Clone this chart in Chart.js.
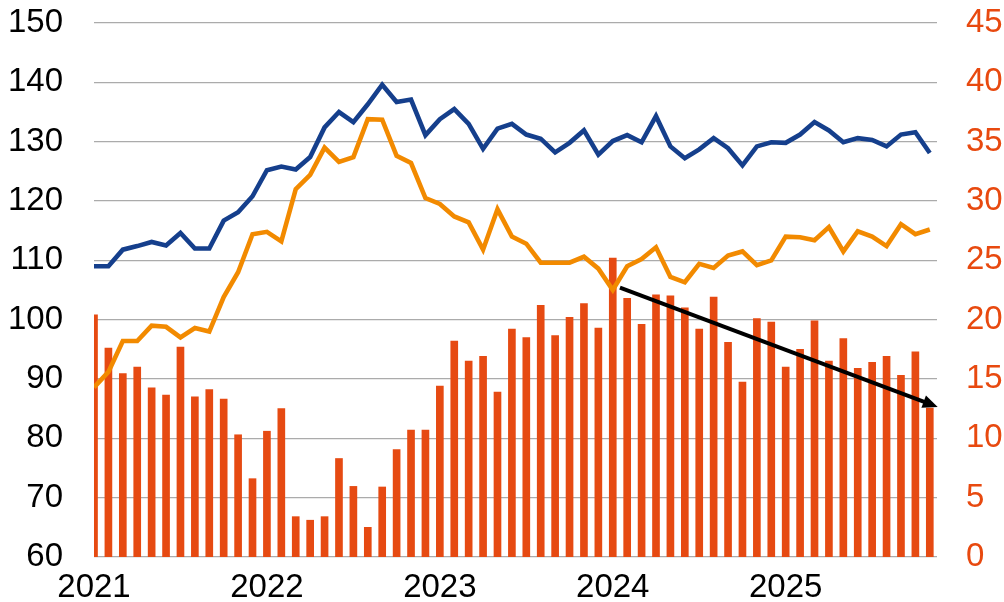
<!DOCTYPE html>
<html>
<head>
<meta charset="utf-8">
<script src="https://cdn.jsdelivr.net/npm/chart.js@4"></script>
<style>
  html, body { margin: 0; padding: 0; background: #fff; }
  #wrap { width: 1004px; height: 602px; position: relative; }
</style>
</head>
<body>
<div id="wrap"><canvas id="c"></canvas></div>
<script>
// Monthly observations, Jan 2021 .. Nov 2025 (index 0..58)
const yearLabels = ['2021', '2022', '2023', '2024', '2025'];
const monthsPerYear = 12;

// Blue line (left axis)
const blueSeries = [109.0,109.0,111.8,112.4,113.1,112.5,114.6,112.0,112.0,116.7,118.1,120.8,
  125.2,125.8,125.3,127.4,132.4,135.0,133.3,136.3,139.6,136.7,137.1,131.1,
  133.8,135.5,133.0,128.8,132.2,133.0,131.2,130.5,128.2,129.8,131.9,127.8,
  130.1,131.1,129.9,134.3,129.2,127.2,128.7,130.6,128.9,126.0,129.2,129.9,
  129.8,131.2,133.3,131.9,129.9,130.6,130.3,129.2,131.2,131.6,128.1];

// Orange line (right axis)
const orangeSeries = [14.3,15.6,18.2,18.2,19.5,19.4,18.5,19.3,19.0,21.9,24.0,27.2,
  27.4,26.6,31.0,32.2,34.5,33.3,33.7,36.9,36.85,33.8,33.2,30.25,
  29.75,28.7,28.2,25.9,29.3,27.0,26.4,24.8,24.8,24.8,25.3,24.3,
  22.5,24.5,25.1,26.1,23.6,23.15,24.7,24.35,25.4,25.75,24.6,25.0,
  27.0,26.95,26.7,27.8,25.75,27.45,27.0,26.2,28.05,27.2,27.6];

// Bars (right axis)
const barSeries = [20.4,17.6,15.45,16.0,14.25,13.65,17.7,13.5,14.1,13.3,10.3,6.6,
  10.6,12.5,3.4,3.1,3.4,8.3,5.95,2.5,5.9,9.05,10.7,10.7,
  14.4,18.2,16.5,16.9,13.9,19.2,18.5,21.2,18.65,20.2,21.35,19.3,
  25.2,21.8,19.6,22.1,22.0,21.0,19.2,21.9,18.1,14.75,20.1,19.8,
  16.0,17.5,19.9,16.5,18.4,15.9,16.4,16.9,15.3,17.3,12.55];

// Left / right axis ticks
const leftTicks = [60, 70, 80, 90, 100, 110, 120, 130, 140, 150];
const rightTicks = [0, 5, 10, 15, 20, 25, 30, 35, 40, 45];

// Trend arrow (month index, right-axis value)
const arrowFrom = [36.5, 22.7];
const arrowTo = [58.55, 12.65];

const toXY = arr => arr.map((v, i) => ({ x: i, y: v }));

const arrowPlugin = {
  id: 'trendArrow',
  afterDatasetsDraw(chart) {
    const xs = chart.scales.x, ys = chart.scales.y1, ctx = chart.ctx;
    const x0 = xs.getPixelForValue(arrowFrom[0]), y0 = ys.getPixelForValue(arrowFrom[1]);
    const x1 = xs.getPixelForValue(arrowTo[0]), y1 = ys.getPixelForValue(arrowTo[1]);
    const ang = Math.atan2(y1 - y0, x1 - x0);
    const headLen = 15, headHalf = 6.5;
    const bx = x1 - headLen * Math.cos(ang), by = y1 - headLen * Math.sin(ang);
    ctx.save();
    ctx.strokeStyle = '#000'; ctx.fillStyle = '#000'; ctx.lineWidth = 4;
    ctx.beginPath(); ctx.moveTo(x0, y0);
    ctx.lineTo(bx + 2 * Math.cos(ang), by + 2 * Math.sin(ang)); ctx.stroke();
    ctx.beginPath(); ctx.moveTo(x1, y1);
    ctx.lineTo(bx + headHalf * Math.sin(ang), by - headHalf * Math.cos(ang));
    ctx.lineTo(bx - headHalf * Math.sin(ang), by + headHalf * Math.cos(ang));
    ctx.closePath(); ctx.fill();
    ctx.restore();
  }
};

const FONT = { family: '"Liberation Sans", Arial, sans-serif', size: 33, lineHeight: 1 };

new Chart(document.getElementById('c'), {
  data: {
    datasets: [
      { type: 'line', label: 'blue', data: toXY(blueSeries), yAxisID: 'y',
        borderColor: '#153F8C', borderWidth: 4.6, pointRadius: 0, tension: 0, order: 1 },
      { type: 'line', label: 'orange', data: toXY(orangeSeries), yAxisID: 'y1',
        borderColor: '#F28A00', borderWidth: 4.6, pointRadius: 0, tension: 0, order: 2 },
      { type: 'bar', label: 'bars', data: toXY(barSeries), yAxisID: 'y1',
        backgroundColor: '#E64A12', barThickness: 7, clip: 0, order: 3 }
    ]
  },
  options: {
    responsive: true, maintainAspectRatio: false, animation: false,
    layout: { padding: { top: 23, left: 0, right: 0, bottom: 0 } },
    plugins: { legend: { display: false }, tooltip: { enabled: false } },
    scales: {
      x: {
        type: 'linear', min: 0, max: 58.5, offset: false,
        grid: { display: false, drawTicks: false, offset: false },
        border: { display: false },
        afterBuildTicks: s => { s.ticks = yearLabels.map((_, k) => ({ value: k * monthsPerYear })); },
        afterFit: s => { s.height = 45; },
        ticks: { font: FONT, color: '#000', padding: 14, maxRotation: 0, autoSkip: false,
          callback: v => yearLabels[Math.round(v / monthsPerYear)] }
      },
      y: {
        position: 'left', min: leftTicks[0], max: leftTicks[leftTicks.length - 1],
        grid: { color: '#ABABAB', lineWidth: 1.2, drawTicks: false },
        border: { display: false },
        afterBuildTicks: s => { s.ticks = leftTicks.map(v => ({ value: v })); },
        afterFit: s => { s.width = 94; s.paddingTop = 0; s.paddingBottom = 0; },
        ticks: { font: FONT, color: '#000', padding: 31 }
      },
      y1: {
        position: 'right', min: rightTicks[0], max: rightTicks[rightTicks.length - 1],
        grid: { display: false, drawTicks: false },
        border: { display: false },
        afterBuildTicks: s => { s.ticks = rightTicks.map(v => ({ value: v })); },
        afterFit: s => { s.width = 67; s.paddingTop = 0; s.paddingBottom = 0; },
        ticks: { font: FONT, color: '#E8490F', padding: 29 }
      }
    }
  },
  plugins: [arrowPlugin]
});
</script>
</body>
</html>
